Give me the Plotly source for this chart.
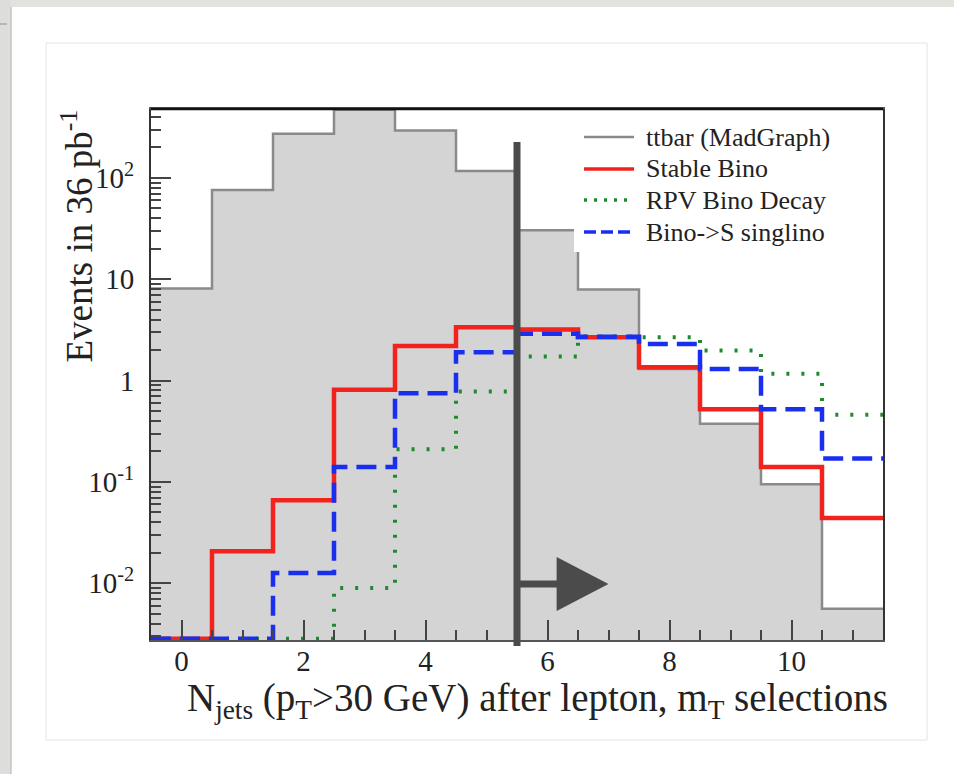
import plotly.graph_objects as go

# ---------------- data ----------------
NJETS = list(range(12))                       # bin centres (N_jets)
TTBAR = [8.1, 76, 273, 470, 294, 117, 30.5, 7.9, 1.3, 0.375, 0.095, 0.0056]
STABLE_BINO = [0, 0.0207, 0.066, 0.81, 2.2, 3.35, 3.2, 2.67, 1.35, 0.52, 0.14, 0.044]
RPV_BINO = [0, 0, 0, 0.009, 0.21, 0.78, 1.73, 2.73, 2.67, 1.98, 1.17, 0.46]
SINGLINO = [0, 0, 0.0126, 0.14, 0.75, 1.9, 2.9, 2.7, 2.3, 1.3, 0.52, 0.17]
SERIES_NAMES = ["ttbar (MadGraph)", "Stable Bino", "RPV Bino Decay", "Bino->S singlino"]
CUT_NJETS = 5.5

X_TICKS = [0, 2, 4, 6, 8, 10]
Y_TICKS = [0.01, 0.1, 1, 10, 100]
Y_TICKTEXT = ["10<sup>-2</sup>", "10<sup>-1</sup>", "1", "10", "10<sup>2</sup>"]

# ---------------- styles ----------------
STYLES = [
    dict(color="#8a8a8a", width=2.5, dash="solid"),
    dict(color="#f2231c", width=4.5, dash="solid"),
    dict(color="#1e8a2e", width=4, dash="3px,12px"),
    dict(color="#1a2ef0", width=4.5, dash="20px,9px"),
]

# ---------------- layout geometry ----------------
W, H = 954, 774
L, R, T, B = 151, 883, 109, 640       # plot area in pixels
YLOG_MIN, YLOG_MAX = -2.56, 2.68
YMIN = 10 ** YLOG_MIN * 1.03

def px(x):  # pixel -> paper x
    return (x - L) / (R - L)

def py(y):  # pixel -> paper y
    return (B - y) / (B - T)

edges = [c - 0.5 for c in NJETS] + [NJETS[-1] + 0.5]

def step(vals):
    v = [max(a, YMIN) for a in vals]
    return edges, v + [v[-1]]

SERIF = "Liberation Serif, Times New Roman, serif"
fig = go.Figure()

# ttbar filled histogram
fig.add_trace(go.Bar(x=NJETS, y=TTBAR, width=1, marker=dict(color="#d4d4d4", line=dict(width=0)),
                     showlegend=False, hoverinfo="skip"))
for vals, name, st in zip([TTBAR, STABLE_BINO, RPV_BINO, SINGLINO], SERIES_NAMES, STYLES):
    sx, sy = step(vals)
    fig.add_trace(go.Scatter(x=sx, y=sy, mode="lines", name=name, showlegend=False,
                             line=dict(shape="hv", color=st["color"], width=st["width"], dash=st["dash"])))

shapes = []
# slide decorations
shapes.append(dict(type="rect", xref="paper", yref="paper", x0=px(0), x1=px(W), y0=py(0), y1=py(7),
                   fillcolor="#e3e2dd", line=dict(width=0), layer="below"))
shapes.append(dict(type="rect", xref="paper", yref="paper", x0=px(0), x1=px(11), y0=py(0), y1=py(H),
                   fillcolor="#dddddb", line=dict(width=0), layer="below"))
shapes.append(dict(type="line", xref="paper", yref="paper", x0=px(11), x1=px(11), y0=py(7), y1=py(H),
                   line=dict(color="#c4c4c0", width=1.5), layer="below"))
shapes.append(dict(type="line", xref="paper", yref="paper", x0=px(0), x1=px(7), y0=py(24), y1=py(24),
                   line=dict(color="#a8a8a8", width=1.5), layer="below"))
shapes.append(dict(type="rect", xref="paper", yref="paper", x0=px(46), x1=px(927), y0=py(43), y1=py(740),
                   line=dict(color="#e4e4e4", width=1), layer="below"))
# top frame line (black)
shapes.append(dict(type="line", xref="paper", yref="paper", x0=0, x1=1, y0=1, y1=1,
                   line=dict(color="#111", width=2.5)))
# cut line and arrow
shapes.append(dict(type="line", xref="x", yref="paper", x0=CUT_NJETS, x1=CUT_NJETS, y0=py(646), y1=py(142),
                   line=dict(color="#4b4b4b", width=7)))
ay = py(584)
head_base = CUT_NJETS + 0.65
head_tip = CUT_NJETS + 1.5
shapes.append(dict(type="line", xref="x", yref="paper", x0=CUT_NJETS, x1=head_base + 0.05, y0=ay, y1=ay,
                   line=dict(color="#4b4b4b", width=7)))
shapes.append(dict(type="path", xref="x", yref="paper",
                   path=f"M {head_base},{py(557)} L {head_tip},{ay} L {head_base},{py(611)} Z",
                   fillcolor="#4b4b4b", line=dict(width=0)))

# legend (ROOT style: white box, long line samples)
LEG_X0, LEG_X1 = 574, 882
LEG_ROWS = [137, 169, 200, 232]
shapes.append(dict(type="rect", xref="paper", yref="paper", x0=px(LEG_X0), x1=px(LEG_X1),
                   y0=py(252), y1=py(117), fillcolor="white", line=dict(width=0)))
annotations = []
for yrow, name, st in zip(LEG_ROWS, SERIES_NAMES, STYLES):
    lw = min(st["width"], 3.5)
    dash = {"3px,12px": "3px,7px", "20px,9px": "12px,5px"}.get(st["dash"], st["dash"])
    shapes.append(dict(type="line", xref="paper", yref="paper", x0=px(584), x1=px(634),
                       y0=py(yrow), y1=py(yrow), line=dict(color=st["color"], width=lw, dash=dash)))
    annotations.append(dict(text=name.replace(">", "&gt;"), xref="paper", yref="paper", x=px(644), y=py(yrow),
                            xanchor="left", yanchor="middle", showarrow=False,
                            font=dict(family=SERIF, size=26, color="#222")))

annotations += [
    dict(text="Events in 36 pb<sup>-1</sup>", textangle=-90, xref="paper", yref="paper",
         x=px(77), y=py(108), xanchor="center", yanchor="top", showarrow=False,
         font=dict(family=SERIF, size=37, color="#222")),
    dict(text="N<sub>jets</sub> (p<sub>T</sub>>30 GeV) after lepton, m<sub>T</sub> selections",
         xref="paper", yref="paper", x=px(890), y=py(700), xanchor="right", yanchor="middle",
         showarrow=False, font=dict(family=SERIF, size=39, color="#222")),
]

minor_y = [k * 10 ** d for d in range(-3, 3) for k in range(2, 10)]

fig.update_layout(
    width=W, height=H, margin=dict(l=L, r=W - R, t=T, b=H - B),
    paper_bgcolor="white", plot_bgcolor="white",
    bargap=0, barmode="overlay", showlegend=False,
    shapes=shapes, annotations=annotations,
    font=dict(family=SERIF, color="#222"),
    xaxis=dict(range=[-0.5, 11.5], tickvals=X_TICKS, ticks="inside", ticklen=20, tickwidth=1.5,
               tickcolor="#444", showline=True, linecolor="#555", linewidth=2, mirror=True,
               showgrid=False, zeroline=False, tickfont=dict(family=SERIF, size=29, color="#222"),
               ticklabelstandoff=-6,
               minor=dict(dtick=0.5, ticks="inside", ticklen=10, tickwidth=1.5, tickcolor="#444", showgrid=False)),
    yaxis=dict(type="log", range=[YLOG_MIN, YLOG_MAX], tickvals=Y_TICKS, ticktext=Y_TICKTEXT,
               ticks="inside", ticklen=20, tickwidth=1.5, tickcolor="#444", showline=True,
               linecolor="#333", linewidth=2, mirror=True, showgrid=False, zeroline=False,
               tickfont=dict(family=SERIF, size=29, color="#222"), ticklabelstandoff=9,
               minor=dict(tickvals=minor_y, ticks="inside", ticklen=10, tickwidth=1.5,
                          tickcolor="#444", showgrid=False)),
)

fig.write_html("out.html")
